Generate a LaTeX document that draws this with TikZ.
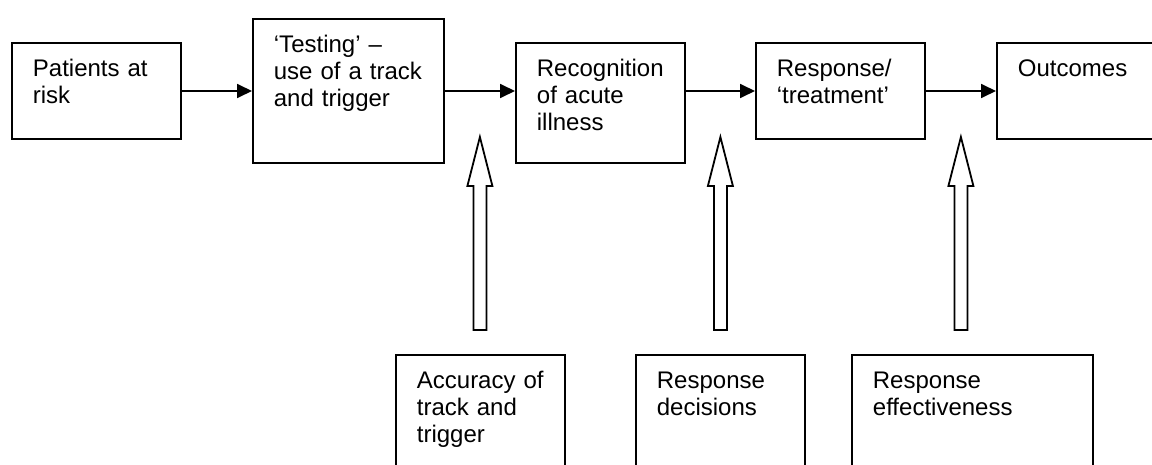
\documentclass[tikz,border=0pt]{standalone}
\usepackage{fontspec}
\setmainfont{Liberation Sans}
\usetikzlibrary{arrows.meta, calc}
\tikzset{
  >={Triangle[length=7.5pt, width=7pt]}, % solid heads on the flow arrows
  stage/.style={draw, line width=0.9pt, anchor=north west, align=left,
    inner xsep=10.5pt, inner ysep=8pt, text height=8.6pt,
    font=\fontsize{12}{13.5}\selectfont}, % text sits in the top left corner
  flow/.style={->, line width=0.9pt},
  hollow/.style={draw, line width=0.9pt, fill=white}, % the big open arrows
}

\begin{document}
\begin{tikzpicture}[x=0.5pt, y=-0.5pt]
  \useasboundingbox (0,0) rectangle (1152,465);
  \clip (0,0) rectangle (1152,465);

  % top row
  \node[stage, text width=63.5pt, text depth=23.5pt] (risk)  at (11,42)  {Patients at\\risk};
  \node[stage, text width=74.5pt, text depth=47.5pt] (test)  at (252,18) {‘Testing’ –\\use of a track\\and trigger};
  \node[stage, text width=63.5pt, text depth=35.5pt] (recog) at (515,42) {Recognition\\of acute\\illness};
  \node[stage, text width=63.5pt, text depth=23.5pt] (resp)  at (755,42) {Response/\\‘treatment’};
  \node[stage, text width=64pt,   text depth=23.5pt] (outc)  at (996,42) {Outcomes};

  % bottom row
  \node[stage, text width=63.5pt, text depth=60pt] (acc) at (395,354) {Accuracy of\\track and\\trigger};
  \node[stage, text width=63.5pt, text depth=60pt] (dec) at (635,354) {Response\\decisions};
  \node[stage, text width=99.5pt, text depth=60pt] (eff) at (851,354) {Response\\effectiveness};

  \draw[flow] (risk.east) -- (test.west |- risk.east);
  \draw[flow] (test.east) -- (recog.west |- test.east);
  \draw[flow] (recog.east |- resp.west) -- (resp.west);
  \draw[flow] (resp.east) -- (outc.west);

  \foreach \one/\two/\src in {test/recog/acc, recog/resp/dec, resp/outc/eff} {
    \coordinate (gap) at ($(\one.east)!0.5!(\two.west)$);
    \coordinate (foot) at (gap |- \src.north);
    \draw[hollow] ([shift={(-6.5,-24)}]foot) -- ++(0,-144) -- ++(-6,0)
      -- ++(12.5,-49) -- ++(12.5,49) -- ++(-6,0) -- ++(0,144) -- cycle;
  }
\end{tikzpicture}
\end{document}
